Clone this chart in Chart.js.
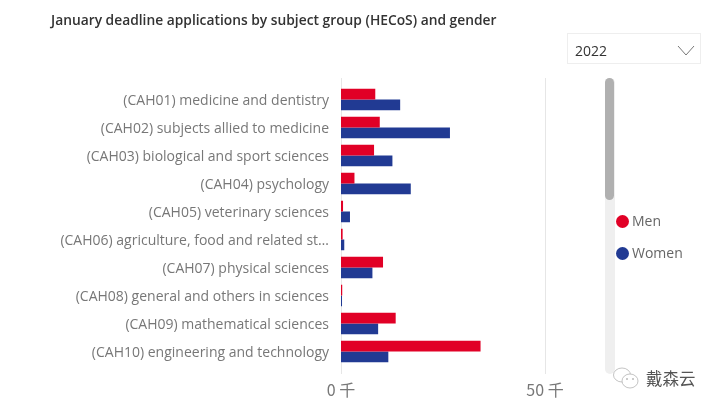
<!DOCTYPE html>
<html>
<head>
<meta charset="utf-8">
<script src="https://cdn.jsdelivr.net/npm/chart.js@4"></script>
<style>
  html, body { margin: 0; padding: 0; background: #fff; }
  #wrap { position: relative; width: 719px; height: 410px; overflow: hidden; font-family: "Open Sans", sans-serif; }
  #wrap canvas { position: absolute; left: 0; top: 0; }
  .title { position: absolute; left: 51px; top: 10px; font-size: 13.8px; font-weight: 600; color: #333; white-space: nowrap; }
  .slicer { position: absolute; left: 567px; top: 33px; width: 132px; height: 29px; border: 1px solid #eee; }
  .slicer span { position: absolute; left: 7px; top: 6.5px; font-size: 14px; color: #333; }
  .slicer svg { position: absolute; left: 109px; top: 11px; }
  .track { position: absolute; left: 604.5px; top: 78px; width: 10.5px; height: 296px; background: #efefef; border-radius: 5px; }
  .thumb { position: absolute; left: 605px; top: 78px; width: 9px; height: 122px; background: #b0b0b0; border-radius: 4.5px; }
  .leg { position: absolute; left: 616px; height: 14px; font-size: 14px; line-height: 14px; color: #666; white-space: nowrap; }
  .leg i { position: absolute; left: 0; top: 0; width: 13px; height: 13px; border-radius: 50%; }
  .leg span { position: absolute; left: 16px; top: -1px; }
  .mark { position: absolute; left: 646px; top: 366px; font-family: "Noto Sans CJK SC", sans-serif; font-size: 16.5px; color: #555; white-space: nowrap; }
  .mark-icon { position: absolute; left: 612px; top: 366px; }
</style>
</head>
<body>
<div id="wrap">
  <canvas id="chart" width="719" height="410"></canvas>
  <div class="title" id="title"></div>
  <div class="slicer"><span id="year"></span>
    <svg width="18" height="11"><path d="M1 1 L9 10 L17 1" fill="none" stroke="#777" stroke-width="1"/></svg>
  </div>
  <div class="track"></div>
  <div class="thumb"></div>
  <div id="legend"></div>
  <svg class="mark-icon" width="30" height="26" fill="#fff" stroke="#aaa" stroke-width="0.7">
    <ellipse cx="10" cy="9" rx="8.5" ry="7"/>
    <ellipse cx="18" cy="15" rx="8" ry="7"/>
    <circle cx="15" cy="13" r="0.8" fill="#888" stroke="none"/>
    <circle cx="21" cy="13" r="0.8" fill="#888" stroke="none"/>
  </svg>
  <div class="mark">戴森云</div>
</div>
<script>
const titleText = "January deadline applications by subject group (HECoS) and gender";
const yearText = "2022";
const categories = [
  "(CAH01) medicine and dentistry",
  "(CAH02) subjects allied to medicine",
  "(CAH03) biological and sport sciences",
  "(CAH04) psychology",
  "(CAH05) veterinary sciences",
  "(CAH06) agriculture, food and related st…",
  "(CAH07) physical sciences",
  "(CAH08) general and others in sciences",
  "(CAH09) mathematical sciences",
  "(CAH10) engineering and technology"
];
const men = [8.4, 9.5, 8.1, 3.3, 0.5, 0.4, 10.3, 0.3, 13.4, 34.2];
const women = [14.5, 26.7, 12.6, 17.1, 2.2, 0.8, 7.7, 0.25, 9.1, 11.6];
const xMax = 62;
const xStep = 50;
const seriesNames = ["Men", "Women"];
const seriesColors = ["#e10026", "#213a93"];

document.getElementById("title").textContent = titleText;
document.getElementById("year").textContent = yearText;

// legend sits right of the scrollbar, same as the report slicer layout
const legendEl = document.getElementById("legend");
seriesNames.forEach((name, i) => {
  const d = document.createElement("div");
  d.className = "leg";
  d.style.top = (214.5 + i * 32) + "px";
  d.innerHTML = '<i style="background:' + seriesColors[i] + '"></i><span>' + name + '</span>';
  legendEl.appendChild(d);
});

// grid lines run a bit past the bars at top and bottom
const longGrid = {
  id: "longGrid",
  beforeDatasetsDraw(chart) {
    const c = chart.ctx;
    const x = chart.scales.x;
    c.save();
    c.strokeStyle = "#e6e6e6";
    c.lineWidth = 1;
    for (let v = 0; v <= xMax; v += xStep) {
      const px = Math.round(x.getPixelForValue(v)) + 0.5;
      c.beginPath();
      c.moveTo(px, 78);
      c.lineTo(px, 374);
      c.stroke();
    }
    c.restore();
  }
};

new Chart(document.getElementById("chart"), {
  type: "bar",
  data: {
    labels: categories,
    datasets: [
      { label: seriesNames[0], data: men, backgroundColor: seriesColors[0] },
      { label: seriesNames[1], data: women, backgroundColor: seriesColors[1] }
    ]
  },
  options: {
    indexAxis: "y",
    responsive: false,
    animation: false,
    categoryPercentage: 0.76,
    barPercentage: 1,
    layout: { padding: { top: 85.5, right: 125, bottom: 0, left: 0 } },
    plugins: { legend: { display: false }, tooltip: { enabled: false } },
    scales: {
      x: {
        min: 0,
        max: xMax,
        grid: { display: false },
        border: { display: false },
        afterFit(s) { s.height = 44.5; },
        afterBuildTicks(s) { s.ticks = s.ticks.filter(t => t.value % xStep === 0); },
        ticks: {
          stepSize: xStep,
          padding: 7,
          color: "#777",
          maxRotation: 0,
          font: { family: '"Noto Sans CJK SC", "Open Sans"', size: 16 },
          callback: v => v + " 千"
        }
      },
      y: {
        grid: { display: false },
        border: { display: false },
        afterFit(s) { s.width = 341; },
        ticks: {
          padding: 4,
          labelOffset: 1.5,
          color: "#777",
          autoSkip: false,
          font: { family: '"Open Sans"', size: 14 }
        }
      }
    }
  },
  plugins: [longGrid]
});
</script>
</body>
</html>
